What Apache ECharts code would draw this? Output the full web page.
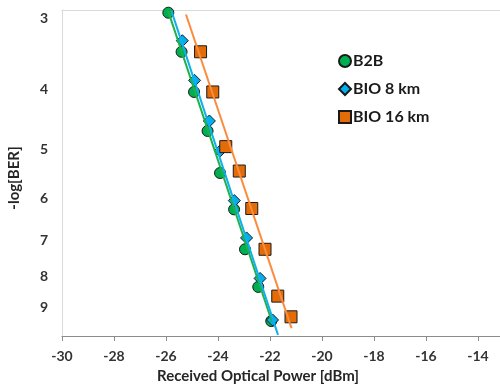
<!DOCTYPE html>
<html>
<head>
<meta charset="utf-8">
<script src="https://cdn.jsdelivr.net/npm/echarts@6/dist/echarts.min.js"></script>
<style>html,body{margin:0;padding:0;background:#fff}#c{width:500px;height:388px}</style>
</head>
<body>
<div id="c"></div>
<script>
// ---- data (x: received optical power [dBm], y: -log[BER]) ----
const b2bX   = [-25.91, -25.40, -24.92, -24.40, -23.92, -23.38, -22.96, -22.45, -21.95];
const b2bY   = [3.00, 3.47, 4.03, 4.66, 5.45, 6.24, 7.24, 8.33, 9.46];
const bio8X  = [-25.37, -24.90, -24.33, -23.92, -23.37, -22.90, -22.38, -21.90];
const bio8Y  = [3.33, 3.86, 4.49, 5.02, 6.04, 6.94, 8.07, 9.42];
const bio16X = [-24.67, -24.20, -23.70, -23.18, -22.70, -22.19, -21.70, -21.19];
const bio16Y = [3.47, 4.03, 4.94, 5.41, 6.22, 7.24, 8.62, 9.31];
// trend line end points
const b2bFitX   = [-25.92, -21.92];
const b2bFitY   = [2.98, 9.49];
const bio8FitX  = [-25.79, -21.69];
const bio8FitY  = [2.98, 9.96];
const bio16FitX = [-25.23, -21.17];
const bio16FitY = [3.02, 9.71];
const seriesNames = ['B2B', 'BIO 8 km', 'BIO 16 km'];
const yTicks = [3, 4, 5, 6, 7, 8, 9];
const yRange = [2.97, 10];
const xRange = [-30, -13.15];

const FONT = 'Lato';
const L = Math.log10;
const pts = (xs, ys) => xs.map((x, i) => [x, L(ys[i])]);

const chart = echarts.init(document.getElementById('c'), null, {renderer: 'canvas'});
chart.setOption({
  animation: false,
  backgroundColor: '#fff',
  textStyle: {fontFamily: FONT},
  grid: {left: 62, right: 0, top: 10, bottom: 52, containLabel: false, outerBoundsMode: 'none'},
  legend: {
    orient: 'vertical', left: 333, top: 48, itemGap: 12,
    itemWidth: 12, itemHeight: 12,
    data: seriesNames,
    textStyle: {fontFamily: FONT, fontWeight: 'bold', fontSize: 16, color: '#1a1a1a', padding: [0,0,0,-3]}
  },
  xAxis: [{
    type: 'value', min: xRange[0], max: xRange[1], interval: 2,
    name: 'Received Optical Power [dBm]', nameLocation: 'middle', nameGap: 33, nameMoveOverlap: false,
    nameTextStyle: {fontFamily: FONT, fontWeight: 'bold', fontSize: 15, color: '#262626', padding: [0, 46, 0, 0]},
    axisLine: {show: true, onZero: false, lineStyle: {color: '#8c8c8c', width: 1}},
    axisTick: {show: true, length: 5, lineStyle: {color: '#8c8c8c'}},
    axisLabel: {fontFamily: FONT, fontWeight: 'bold', fontSize: 14, color: '#333', margin: 13, showMaxLabel: false},
    splitLine: {show: false}
  }, {
    type: 'value', position: 'top', min: xRange[0], max: xRange[1],
    axisLine: {show: true, onZero: false, lineStyle: {color: '#d9d9d9', width: 1}},
    axisTick: {show: false}, axisLabel: {show: false}, splitLine: {show: false}
  }],
  yAxis: {
    type: 'value', inverse: true, min: L(yRange[0]), max: L(yRange[1]),
    name: '-log[BER]', nameLocation: 'middle', nameGap: 40, nameMoveOverlap: false,
    nameTextStyle: {fontFamily: FONT, fontWeight: 'bold', fontSize: 15, color: '#262626', padding: [0, 10, 0, 0]},
    axisLine: {show: true, onZero: false, lineStyle: {color: '#d9d9d9', width: 1}},
    axisTick: {show: false},
    splitLine: {show: false},
    axisLabel: {
      customValues: yTicks.map(L),
      fontFamily: FONT, fontWeight: 'bold', fontSize: 14, color: '#333', margin: 14,
      formatter: v => {
        const n = Math.round(Math.pow(10, v));
        return n === yTicks[0] ? '{top|' + n + '}' : String(n);
      },
      rich: {top: {fontFamily: FONT, fontWeight: 'bold', fontSize: 14, color: '#333', padding: [11, 0, 0, 0]}}
    }
  },
  series: [
    {name: seriesNames[0], type: 'scatter', data: pts(b2bX, b2bY), symbol: 'circle', symbolSize: 11, z: 3,
     itemStyle: {color: '#00b050', borderColor: '#1a1a1a', borderWidth: 1, opacity: 1}},
    {name: seriesNames[1], type: 'scatter', data: pts(bio8X, bio8Y), symbol: 'diamond', symbolSize: 12, z: 4,
     itemStyle: {color: '#00b0f0', borderColor: '#1a1a1a', borderWidth: 1, opacity: 1}},
    {name: seriesNames[2], type: 'scatter', data: pts(bio16X, bio16Y), symbol: 'rect', symbolSize: 12, z: 4,
     itemStyle: {color: '#e36c09', borderColor: '#1a1a1a', borderWidth: 1, opacity: 1}},
    {type: 'line', data: pts(b2bFitX, b2bFitY), showSymbol: false, z: 5, lineStyle: {color: '#1fb24a', width: 2}},
    {type: 'line', data: pts(bio8FitX, bio8FitY), showSymbol: false, z: 5, lineStyle: {color: '#10b0ee', width: 2}},
    {type: 'line', data: pts(bio16FitX, bio16FitY), showSymbol: false, z: 5, lineStyle: {color: '#fb8c3c', width: 2}}
  ]
});
</script>
</body>
</html>
